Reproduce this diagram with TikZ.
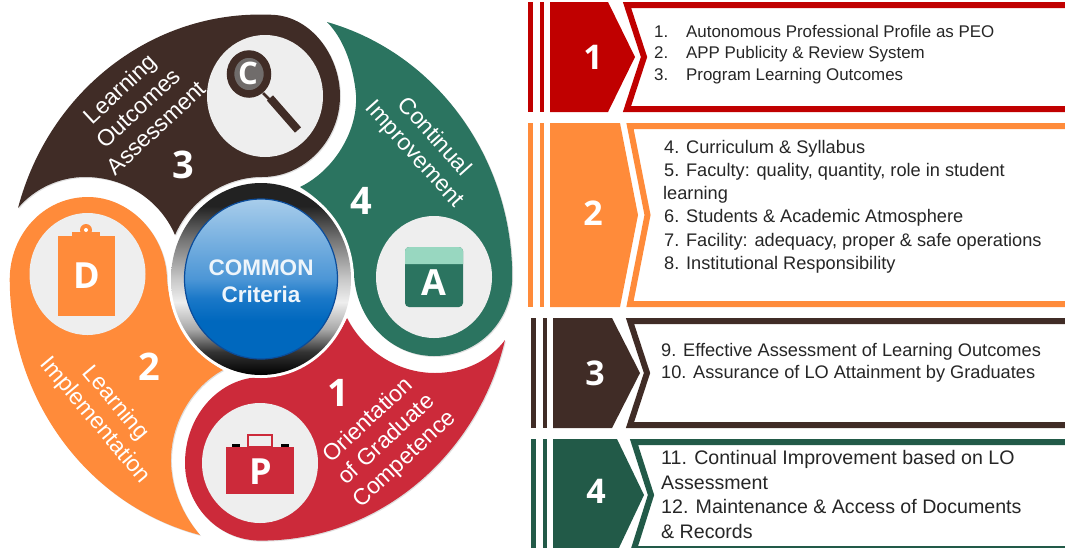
\documentclass[tikz,border=0pt]{standalone}
\usepackage{fontspec}
\setmainfont{Liberation Sans}
\newfontfamily\numfont{Open Sans}
\usetikzlibrary{shadows}

\definecolor{cyclered}{HTML}{CC2A3A}
\definecolor{cycleorange}{HTML}{FF8B3A}
\definecolor{cyclebrown}{HTML}{402C26}
\definecolor{cyclegreen}{HTML}{2B7460}
\definecolor{panelred}{HTML}{C00000}
\definecolor{panelgreen}{HTML}{225A48}
\definecolor{discgrey}{HTML}{EEEEEE}
\definecolor{lensgrey}{HTML}{706C6B}
\definecolor{calendartop}{HTML}{98D7C0}
\definecolor{listtext}{HTML}{262626}
\definecolor{hubtop}{HTML}{A8CDEB}
\definecolor{hubmid}{HTML}{4C96D6}
\definecolor{hublow}{HTML}{1A78C8}
\definecolor{hubbot}{HTML}{0068BE}
\definecolor{hubedge}{HTML}{0B4C9A}
\definecolor{hubtext}{HTML}{EEF5FB}
\definecolor{ringa}{HTML}{222222}
\definecolor{ringb}{HTML}{777777}
\definecolor{ringc}{HTML}{C8C8C8}
\definecolor{ringd}{HTML}{EEEEEE}
\definecolor{ringe}{HTML}{AAAAAA}
\definecolor{ringf}{HTML}{333333}

\pgfdeclareverticalshading{hubshade}{100bp}{color(0bp)=(hubbot); color(25bp)=(hubbot); color(37bp)=(hubbot); color(44bp)=(hublow); color(50bp)=(hubmid); color(75bp)=(hubtop); color(100bp)=(hubtop)}
\pgfdeclareverticalshading{ringshade}{100bp}{color(0bp)=(black); color(25bp)=(black); color(31bp)=(ringf); color(37bp)=(ringe); color(44bp)=(ringd); color(50bp)=(ringc); color(60bp)=(ringb); color(69bp)=(ringa); color(75bp)=(ringa); color(100bp)=(ringa)}

\tikzset{
	petal/.style = {drop shadow = {opacity=.25, shadow xshift=1pt, shadow yshift=-1pt}},
	disc/.style = {fill = discgrey},
	petaltext/.style = {text = white, align = center, font = \fontsize{23}{26.5}\selectfont},
	bignum/.style = {text = white, font = \numfont\bfseries\fontsize{38}{38}\selectfont},
	boxnum/.style = {text = white, font = \numfont\bfseries\fontsize{34}{34}\selectfont},
	iconletter/.style = {text = white, font = \numfont\bfseries\fontsize{36}{36}\selectfont},
	listtextbox/.style = {text = listtext, anchor = north west, align = left, inner sep = 0pt},
}

\begin{document}
\begin{tikzpicture}[x=1pt, y=-1pt]
	\path[use as bounding box, clip] (0,0) rectangle (1065,547);

	% petals
	\fill[cyclebrown, petal] (18,208) arc[start angle=195.5, end angle=272, x radius=251, y radius=264]
		.. controls (310,14) and (340,55) .. (340,96)
		.. controls (340,140) and (305,177) .. (262,177)
		.. controls (225,177) and (190,200) .. (175,235)
		.. controls (160,200) and (125,177) .. (85,177)
		.. controls (60,177) and (35,188) .. (18,208) -- cycle;
	\fill[cyclegreen, petal] (327,22) arc[start angle=285.2, end angle=360, x radius=251, y radius=264]
		.. controls (512,322) and (478,356) .. (434,356)
		.. controls (392,356) and (357,322) .. (354,275)
		.. controls (350,235) and (330,205) .. (300,187)
		.. controls (335,170) and (358,130) .. (356,95)
		.. controls (354,70) and (345,40) .. (327,22) -- cycle;
	\fill[cyclered, petal] (505,340) arc[start angle=13.9, end angle=89, x radius=251, y radius=264]
		.. controls (218,543) and (185,505) .. (185,463)
		.. controls (185,415) and (220,377) .. (262,377)
		.. controls (300,377) and (332,350) .. (347,318)
		.. controls (362,348) and (395,373) .. (435,373)
		.. controls (465,373) and (490,360) .. (505,340) -- cycle;
	\fill[cycleorange, petal] (200,535) arc[start angle=104, end angle=180, x radius=251, y radius=264]
		.. controls (10,235) and (43,197) .. (88,197)
		.. controls (130,197) and (166,235) .. (167,279)
		.. controls (170,320) and (195,355) .. (223,370)
		.. controls (195,385) and (170,420) .. (171,463)
		.. controls (172,490) and (183,515) .. (200,535) -- cycle;

	% centre button
	\fill[white] (261,279) circle[x radius=93, y radius=99];
	\shade[shading=ringshade] (261,279) circle[x radius=90, y radius=96];
	\shade[shading=hubshade, draw=hubedge, line width=1.2pt] (261,279) circle[x radius=76.5, y radius=80];
	\node (hub) [text=hubtext, align=center, font=\bfseries\fontsize{22.5}{27.5}\selectfont] at (261,281) {COMMON\\Criteria};

	% grey discs
	\fill[disc] (265,96) circle[x radius=58, y radius=61];
	\fill[disc] (434,277) circle[x radius=58, y radius=61];
	\fill[disc] (260,463) circle[x radius=58, y radius=60];
	\fill[disc] (87.5,274) circle[x radius=58, y radius=61];

	% magnifier
	\fill[lensgrey] (249,74) circle[x radius=16, y radius=17];
	\node (letterC) [iconletter, font=\numfont\bfseries\fontsize{31}{31}\selectfont] at (248,73) {C};
	\draw[cyclebrown, line width=7.5pt] (249,74) circle[x radius=18.5, y radius=20];
	\draw[cyclebrown, line width=2.5pt] (263,93) -- (272,102);
	\draw[cyclebrown, line width=8pt] (270,98) -- (298,130);

	% clipboard
	\fill[cycleorange] (58,236) rectangle (115,316);
	\fill[cycleorange] (72,237) -- (72,232) -- (100,232) -- (100,237) -- cycle;
	\fill[cycleorange] (86,230) circle (6);
	\fill[white] (86,230) circle (2);
	\node (letterD) [iconletter] at (87,276) {D};

	% calendar
	\fill[cyclegreen, rounded corners=4pt] (405,247) rectangle (463,307);
	\fill[calendartop, rounded corners=4pt] (405,264) -- (405,247) -- (463,247) -- (463,264);
	\fill[calendartop] (405,258) rectangle (463,264);
	\node (letterA) [iconletter] at (434,283) {A};

	% briefcase
	\fill[black] (232,444) rectangle (240,448);
	\fill[black] (281,444) rectangle (289,448);
	\draw[cyclered, line width=1.5pt] (248,447) rectangle (272,435);
	\fill[cyclered] (226,447) rectangle (294,494);
	\node (letterP) [iconletter] at (261,472) {P};

	% petal labels
	\node (labelthree) [petaltext, rotate=43] at (138,108) {Learning\\Outcomes\\Assessment};
	\node (labelfour) [petaltext, rotate=-48] at (424,146) {Continual\\Improvement};
	\node (labeltwo) [petaltext, rotate=-50] at (105,412) {Learning\\Implementation};
	\node (labelone) [petaltext, rotate=43] at (387,440) {Orientation\\of Graduate\\Competence};

	\node (numthree) [bignum] at (183,165) {3};
	\node (numfour) [bignum] at (361,201) {4};
	\node (numtwo) [bignum] at (149,367) {2};
	\node (numone) [bignum] at (338,393) {1};

	% panels, one per colour
	\foreach \col/\x/\top/\bot/\mid/\penx/\tipx/\chevx/\chevtip in {
		panelred/528/2/112/57/608/635/627/644,
		cycleorange/528/123/307/215/620/638/630/647.5,
		cyclebrown/531/318/428/373/612/640/630/647,
		panelgreen/531/439/552/495/617/644/634/651} {
		\fill[\col] (\x,\top) rectangle ++(5,\bot-\top);
		\fill[\col] (\x+12,\top) rectangle ++(4,\bot-\top);
		\fill[\col] (\x+22,\top) -- (\penx,\top) -- (\tipx,\mid) -- (\penx,\bot) -- (\x+22,\bot) -- cycle;
		\draw[\col, fill=white, line width=6pt] (\chevx,\top+3) -- (\chevtip,\mid) -- (\chevx,\bot-3) -- (1080,\bot-3) -- (1080,\top+3) -- cycle;
	}

	\node (boxnumone) [boxnum] at (593,57) {1};
	\node (boxnumtwo) [boxnum] at (593,213) {2};
	\node (boxnumthree) [boxnum] at (595,373) {3};
	\node (boxnumfour) [boxnum] at (596,491) {4};

	% lists
	\node (listone) [listtextbox, font=\fontsize{16.9}{21.5}\selectfont] at (654,25) {\makebox[32pt][l]{1.}Autonomous Professional Profile as PEO\\ \makebox[32pt][l]{2.}APP Publicity \& Review System\\ \makebox[32pt][l]{3.}Program Learning Outcomes};
	\node (listtwo) [listtextbox, font=\fontsize{18.2}{23.2}\selectfont] at (663,140) {\hspace{1pt}4. Curriculum \& Syllabus\\ \hspace{1pt}5. Faculty: quality, quantity, role in student\\ learning\\ \hspace{1pt}6. Students \& Academic Atmosphere\\ \hspace{1pt}7. Facility: adequacy, proper \& safe operations\\ \hspace{1pt}8. Institutional Responsibility};
	\node (listthree) [listtextbox, font=\fontsize{18.2}{22}\selectfont] at (661,343) {9. Effective Assessment of Learning Outcomes\\ 10. Assurance of LO Attainment by Graduates};
	\node (listfour) [listtextbox, font=\fontsize{19.6}{24.6}\selectfont] at (661,450) {11. Continual Improvement based on LO\\ Assessment\\ 12. Maintenance \& Access of Documents\\ \& Records};
\end{tikzpicture}
\end{document}
